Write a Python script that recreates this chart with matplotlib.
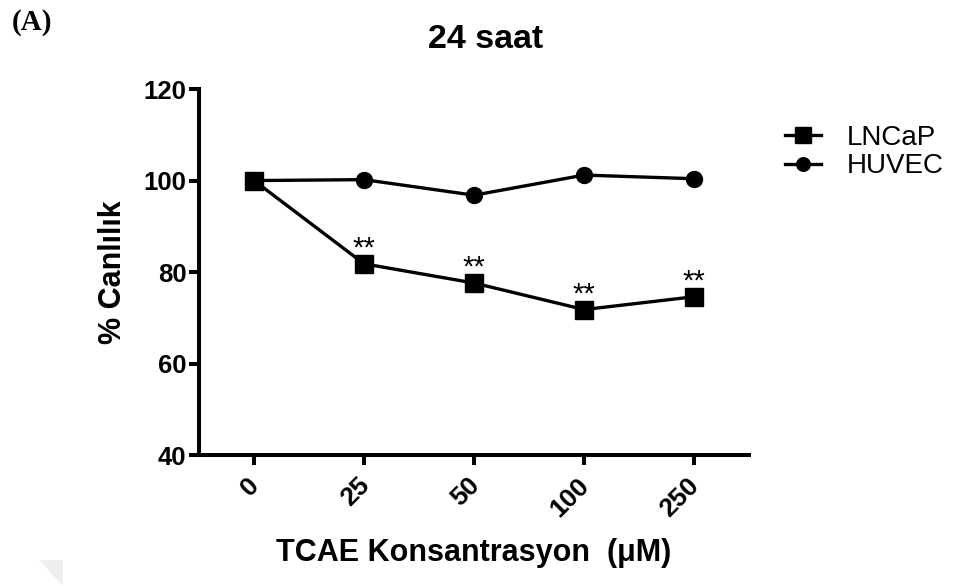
import numpy as np
import matplotlib
matplotlib.use("Agg")
from matplotlib import pyplot as plt
from matplotlib.patches import Polygon
from matplotlib.transforms import ScaledTranslation

plt.rcParams['font.family'] = ['Liberation Sans', 'DejaVu Sans']

# doses (uM) and viability (%)
doses = ['0', '25', '50', '100', '250']
lncap = [100.0, 81.8, 77.6, 71.8, 74.6]
huvec = [100.0, 100.2, 96.8, 101.2, 100.4]
stars = ['', '**', '**', '**', '**']

fig = plt.figure(figsize=(9.57, 5.86), dpi=100)
ax = fig.add_axes([0.208, 0.2235, 0.5747, 0.6245])

x = np.arange(len(doses))
ax.plot(x, lncap, color='black', lw=2.4, marker='s', ms=13.5, label='LNCaP', zorder=3)
ax.plot(x, huvec, color='black', lw=2.4, marker='o', ms=11.5, label='HUVEC', zorder=3)

for xi, yi, s in zip(x, lncap, stars):
    if s:
        ax.annotate(s, xy=(xi, yi), xytext=(0, 1), textcoords='offset points',
                    ha='center', va='bottom', fontsize=21)

ax.set_xlim(-0.5, 4.5)
ax.set_ylim(40, 120)
ax.set_yticks([40, 60, 80, 100, 120])
ax.set_xticks(x)
ax.set_xticklabels(doses, rotation=45, ha='right', rotation_mode='anchor')

for side in ['top', 'right']:
    ax.spines[side].set_visible(False)
for side in ['left', 'bottom']:
    ax.spines[side].set_linewidth(2.9)
ax.tick_params(axis='both', direction='out', length=7, width=2.9, labelsize=18.5, pad=2)
ax.tick_params(axis='x', pad=6, labelsize=19)
# nudge rotated labels left so their upper end sits under the tick
shift = ScaledTranslation(-7 / 100, 0, fig.dpi_scale_trans)
for lab in ax.get_xticklabels():
    lab.set_transform(lab.get_transform() + shift)
for lab in ax.get_xticklabels() + ax.get_yticklabels():
    lab.set_fontweight('bold')

ax.set_ylabel('% Canlılık', fontsize=22, fontweight='bold', labelpad=11)
ax.set_xlabel('TCAE Konsantrasyon  (\u03bcM)', fontsize=22, fontweight='bold', labelpad=12)

fig.text(0.507, 0.932, '24 saat', ha='center', va='center', fontsize=24.5, fontweight='bold')
fig.text(0.012, 0.962, '(A)', ha='left', va='center', fontsize=21, fontweight='bold',
         family='Liberation Serif')

ax.legend(loc='upper left', bbox_to_anchor=(1.0, 1.0), frameon=False, fontsize=20,
          handlelength=1.3, handletextpad=0.9, labelspacing=0.08, borderaxespad=0.9,
          markerscale=0.85)

# faint corner mark near the bottom left
fig.patches.append(Polygon([[0.041, 0.044], [0.066, 0.044], [0.066, 0.0]],
                           closed=True, transform=fig.transFigure,
                           facecolor='#efefef', edgecolor='none'))

fig.savefig('out.png', dpi=100)
